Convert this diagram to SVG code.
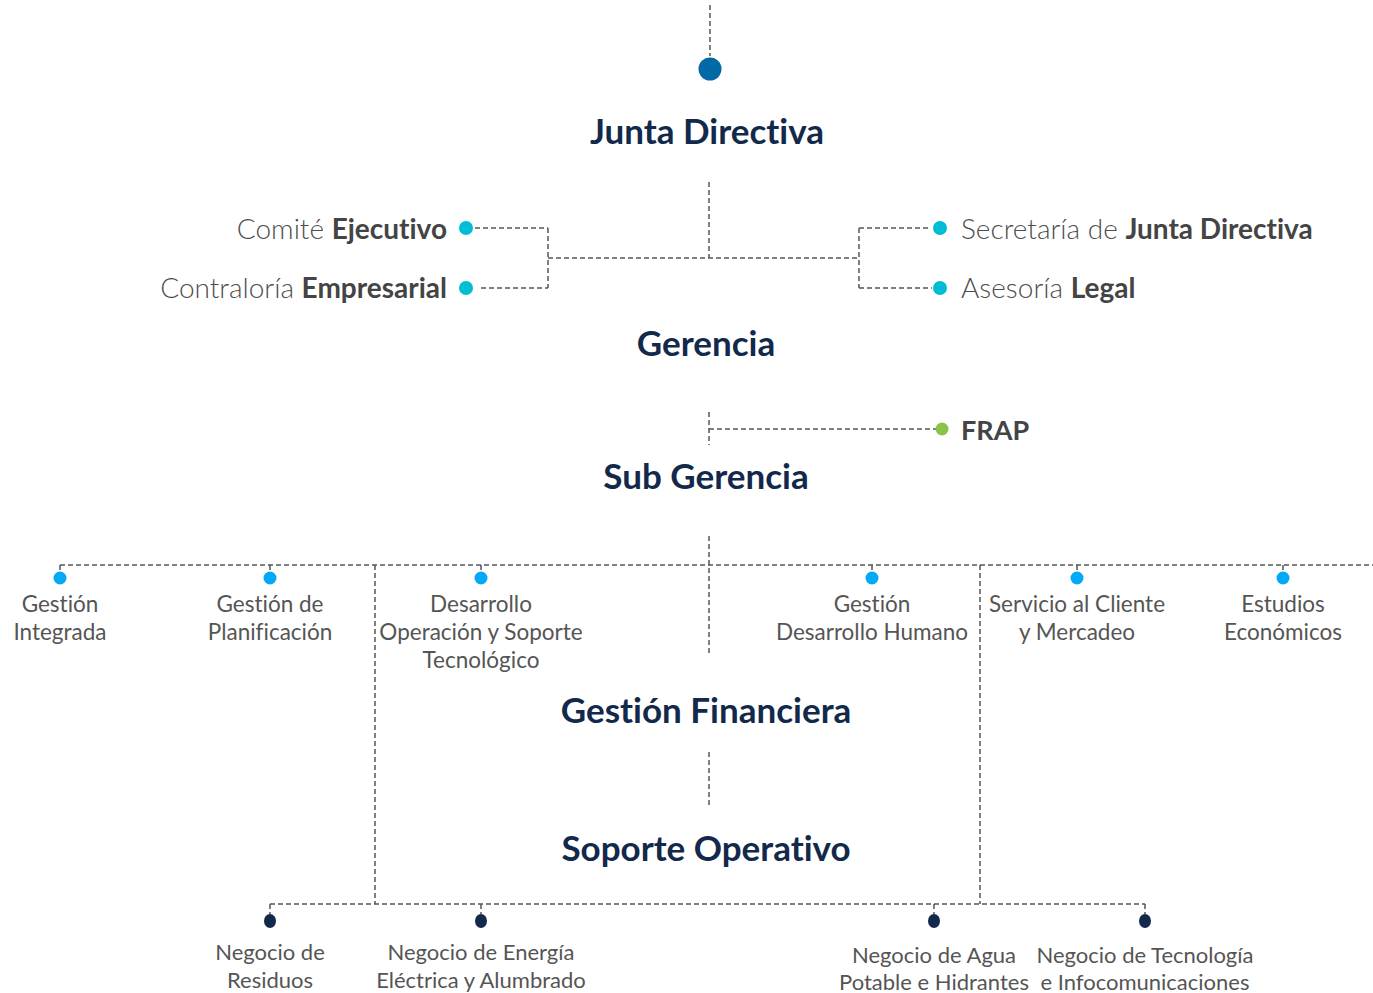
<svg xmlns="http://www.w3.org/2000/svg" width="1373" height="993" viewBox="0 0 1373 993">
<style>
text{font-variant-ligatures:none}
.c{fill:none;stroke:#555;stroke-width:1.5;stroke-dasharray:5 3}
.t{font-family:Lato,"Liberation Sans",sans-serif;font-weight:700;fill:#13294b;font-size:35px;text-anchor:middle}
.l{font-family:Lato,"Liberation Sans",sans-serif;font-weight:300;fill:#4d4d4d;font-size:28px}
.b{font-weight:700;fill:#444}
.s{font-family:Lato,"Liberation Sans",sans-serif;font-weight:400;fill:#555;font-size:22.5px;text-anchor:middle}
.s2{font-size:22px}
.cy{fill:#00bcd4}.lb{fill:#03a9f4}.nv{fill:#13294b}
</style>
<rect width="1373" height="993" fill="#fff"/>
<g id="connectors">
<path class="c" d="M710 5V56"/>
<path class="c" d="M709 182V258M548 258H859M548 228V288M475 228H548M481 288H548M859 228V288M859 228H930M859 288H932"/>
<path class="c" d="M709 412V445M709 429H936"/>
<path class="c" d="M709 536V655M60 565H1373M375 565V904M980 565V904"/>
<path class="c" d="M60 565V572M270 565V572M481 565V572M872 565V572M1077 565V572M1283 565V572"/>
<path class="c" d="M709 752V805"/>
<path class="c" d="M270 904H1145M270 904V914M481 904V914M934 904V914M1145 904V914"/>
</g>
<g id="junta"><circle cx="710" cy="69" r="11.5" fill="#0069a6"/><text class="t" x="707" y="144">Junta Directiva</text></g>
<g id="comite"><circle class="cy" cx="466" cy="228" r="7"/><text class="l" x="447" y="239" text-anchor="end">Comité <tspan class="b">Ejecutivo</tspan></text></g>
<g id="contraloria"><circle class="cy" cx="466" cy="288" r="7"/><text class="l" x="447" y="298" text-anchor="end">Contraloría <tspan class="b">Empresarial</tspan></text></g>
<g id="secretaria"><circle class="cy" cx="940" cy="228" r="7"/><text class="l" x="961" y="239">Secretaría de <tspan class="b">Junta Directiva</tspan></text></g>
<g id="asesoria"><circle class="cy" cx="940" cy="288" r="7"/><text class="l" x="961" y="298">Asesoría <tspan class="b">Legal</tspan></text></g>
<g id="gerencia"><text class="t" x="706" y="356">Gerencia</text></g>
<g id="frap"><circle cx="942" cy="429" r="6.5" fill="#8bc34a"/><text class="l b" x="961" y="440" style="font-size:27px">FRAP</text></g>
<g id="subgerencia"><text class="t" x="706" y="489">Sub Gerencia</text></g>
<g id="gi"><circle class="lb" cx="60" cy="578" r="6.5"/><text class="s" x="60" y="612">Gestión<tspan x="60" dy="28">Integrada</tspan></text></g>
<g id="gp"><circle class="lb" cx="270" cy="578" r="6.5"/><text class="s" x="270" y="612">Gestión de<tspan x="270" dy="28">Planificación</tspan></text></g>
<g id="dost"><circle class="lb" cx="481" cy="578" r="6.5"/><text class="s" x="481" y="612">Desarrollo<tspan x="481" dy="28">Operación y Soporte</tspan><tspan x="481" dy="28">Tecnológico</tspan></text></g>
<g id="gdh"><circle class="lb" cx="872" cy="578" r="6.5"/><text class="s" x="872" y="612">Gestión<tspan x="872" dy="28">Desarrollo Humano</tspan></text></g>
<g id="scm"><circle class="lb" cx="1077" cy="578" r="6.5"/><text class="s" x="1077" y="612">Servicio al Cliente<tspan x="1077" dy="28">y Mercadeo</tspan></text></g>
<g id="ee"><circle class="lb" cx="1283" cy="578" r="6.5"/><text class="s" x="1283" y="612">Estudios<tspan x="1283" dy="28">Económicos</tspan></text></g>
<g id="gf"><text class="t" x="706" y="723">Gestión Financiera</text></g>
<g id="so"><text class="t" x="706" y="861">Soporte Operativo</text></g>
<g id="nr"><ellipse class="nv" cx="270" cy="921" rx="6" ry="7"/><text class="s s2" x="270" y="960">Negocio de<tspan x="270" dy="28">Residuos</tspan></text></g>
<g id="ne"><ellipse class="nv" cx="481" cy="921" rx="6" ry="7"/><text class="s s2" x="481" y="960">Negocio de Energía<tspan x="481" dy="28">Eléctrica y Alumbrado</tspan></text></g>
<g id="na"><ellipse class="nv" cx="934" cy="921" rx="6" ry="7"/><text class="s s2" x="934" y="963">Negocio de Agua<tspan x="934" dy="27">Potable e Hidrantes</tspan></text></g>
<g id="nt"><ellipse class="nv" cx="1145" cy="921" rx="6" ry="7"/><text class="s s2" x="1145" y="963">Negocio de Tecnología<tspan x="1145" dy="27">e Infocomunicaciones</tspan></text></g>
</svg>
